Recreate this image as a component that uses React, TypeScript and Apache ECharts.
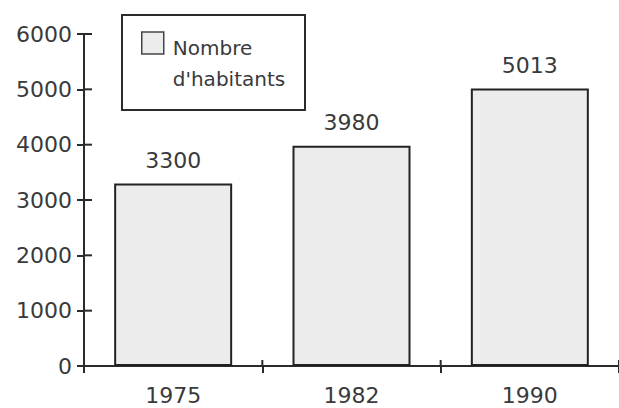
import React, { useEffect, useRef } from "react";
import * as echarts from "echarts";

const categories = ["1975", "1982", "1990"];
const populationValues = [3300, 3980, 5013];
const yTicks = { min: 0, max: 6000, interval: 1000 };
const yTickValues = [0, 1000, 2000, 3000, 4000, 5000, 6000];
const legendName = "Nombre d'habitants";
const legendLines = ["Nombre", "d'habitants"];

const FONT = "DejaVu Sans";
const INK = "#3a3a3a";
const LINE = "#2b2b2b";

export default function App() {
  const ref = useRef<HTMLDivElement>(null);
  useEffect(() => {
    if (!ref.current) return;
    const chart = echarts.init(ref.current, null, { renderer: "svg" });
    chart.setOption({
      animation: false,
      backgroundColor: "#ffffff",
      textStyle: { fontFamily: FONT, color: INK },
      grid: { left: 84, right: 0, top: 34, bottom: 42, containLabel: false },
      legend: {
        data: [legendName],
        left: 141,
        top: 2,
        padding: 0,
        selectedMode: false,
        icon: "rect",
        itemWidth: 22,
        itemHeight: 22,
        itemStyle: { color: "#ececec", borderColor: "#444", borderWidth: 1.5 },
        formatter: () =>
          "{pad| }\n" + legendLines.map((l) => "{t|" + l + "}").join("\n"),
        textStyle: {
          fontFamily: FONT,
          fontSize: 20,
          color: INK,
          rich: {
            pad: { lineHeight: 41, fontSize: 20, fontFamily: FONT },
            t: { lineHeight: 31, fontSize: 20, fontFamily: FONT, color: INK, padding: [0, 0, 0, 4] },
          },
        },
      },
      graphic: [
        {
          type: "rect",
          shape: { x: 122, y: 15, width: 183, height: 95 },
          style: { fill: "none", stroke: LINE, lineWidth: 2 },
          silent: true,
        },
      ],
      xAxis: {
        type: "category",
        data: categories,
        boundaryGap: true,
        axisLine: { lineStyle: { color: LINE, width: 2 } },
        axisTick: { show: true, inside: false, length: 7, lineStyle: { color: LINE, width: 2 } },
        axisLabel: { fontFamily: FONT, fontSize: 22, color: INK, margin: 18 },
        splitLine: { show: false },
      },
      yAxis: {
        type: "value",
        min: yTicks.min,
        max: yTicks.max,
        interval: yTicks.interval,
        axisLine: { show: true, lineStyle: { color: LINE, width: 2 } },
        axisTick: { show: true, inside: false, length: 7, lineStyle: { color: LINE, width: 2 } },
        axisLabel: {
          fontFamily: FONT,
          fontSize: 22,
          color: INK,
          margin: 12,
          formatter: (v: number) => String(v),
        },
        splitLine: { show: false },
      },
      series: [
        {
          name: legendName,
          type: "bar",
          data: populationValues,
          barWidth: 118,
          itemStyle: { color: "#ececec", borderColor: "#222", borderWidth: 2 },
          label: {
            show: true,
            position: "top",
            distance: 12,
            fontFamily: FONT,
            fontSize: 22,
            color: INK,
          },
        },
        {
          name: "yTicksInside",
          type: "custom",
          silent: true,
          clip: false,
          z: 5,
          data: yTickValues.map((v) => [0, v]),
          renderItem: (params: any, api: any) => {
            const p = api.coord([0, api.value(1)]);
            const half = api.size([1, 0])[0] / 2;
            const x = p[0] - half;
            return {
              type: "line",
              shape: { x1: x, y1: p[1], x2: x + 8, y2: p[1] },
              style: { stroke: LINE, lineWidth: 2 },
            };
          },
        },
        {
          name: "xTicksInside",
          type: "custom",
          silent: true,
          clip: false,
          z: 5,
          data: categories.map((c, i) => [i, 0]),
          renderItem: (params: any, api: any) => {
            const idx = api.value(0);
            const p = api.coord([idx, 0]);
            const half = api.size([1, 0])[0] / 2;
            const children: any[] = [
              {
                type: "line",
                shape: { x1: p[0] - half, y1: p[1], x2: p[0] - half, y2: p[1] - 6 },
                style: { stroke: LINE, lineWidth: 2 },
              },
            ];
            if (idx === categories.length - 1) {
              children.push({
                type: "line",
                shape: { x1: p[0] + half, y1: p[1], x2: p[0] + half, y2: p[1] - 6 },
                style: { stroke: LINE, lineWidth: 2 },
              });
            }
            return { type: "group", children };
          },
        },
      ],
    });
    return () => chart.dispose();
  }, []);
  return (
    <div
      ref={ref}
      style={{ position: "fixed", left: 0, top: 0, width: 619, height: 408 }}
    />
  );
}
